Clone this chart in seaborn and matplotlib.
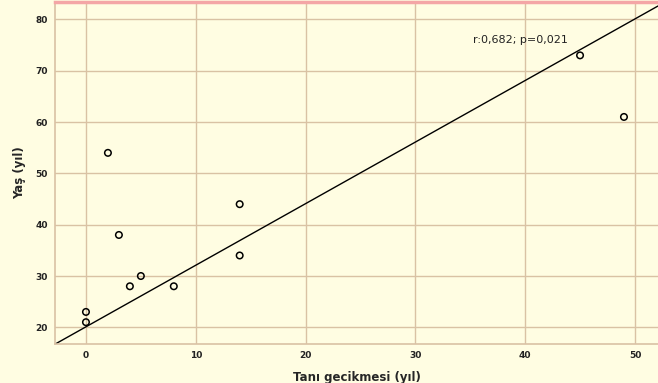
import numpy as np
import pandas as pd
import matplotlib
matplotlib.use("Agg")
import matplotlib.pyplot as plt
import seaborn as sns

# data
tani_gecikmesi = [0, 0, 2, 3, 4, 5, 8, 14, 14, 45, 49]
yas = [21, 23, 54, 38, 28, 30, 28, 44, 34, 73, 61]

# fitted line as drawn in the reference
fit_intercept = 20.1
fit_slope = 1.2

annot_text = "r:0,682; p=0,021"
x_ticks = [0, 10, 20, 30, 40, 50]
y_ticks = [20, 30, 40, 50, 60, 70, 80]

BG = "#FFFDE2"
GRID = "#D9C2A4"

sns.set_style("whitegrid")
plt.rcParams["font.family"] = ["DejaVu Sans"]

df = pd.DataFrame({"Tanı gecikmesi (yıl)": tani_gecikmesi, "Yaş (yıl)": yas})

fig = plt.figure(figsize=(6.58, 3.83), dpi=100, facecolor=BG)
ax = fig.add_axes([55 / 658, 39 / 383, 1 - 55 / 658, 342 / 383])
ax.set_facecolor(BG)

sns.scatterplot(data=df, x="Tanı gecikmesi (yıl)", y="Yaş (yıl)", ax=ax,
                marker="o", s=22, facecolor="none", edgecolor="black",
                linewidth=1.1, zorder=3)
ax.axline((0, fit_intercept), slope=fit_slope, color="black", lw=1.0, zorder=2)

ax.set_xlim(-2.82, 52.1)
ax.set_ylim(16.75, 83.4)
ax.set_xticks(x_ticks)
ax.set_yticks(y_ticks)
ax.grid(True, color=GRID, lw=1.0)
ax.tick_params(length=0, labelsize=6.5, pad=5)
for lbl in ax.get_xticklabels() + ax.get_yticklabels():
    lbl.set_fontweight("bold")
    lbl.set_color("#222222")

for side in ["left", "bottom"]:
    ax.spines[side].set_color(GRID)
    ax.spines[side].set_linewidth(1.2)
ax.spines["right"].set_visible(False)
ax.spines["top"].set_color("#F4A6A6")
ax.spines["top"].set_linewidth(2.5)

ax.set_xlabel("Tanı gecikmesi (yıl)", fontsize=8.5, fontweight="bold", labelpad=8)
ax.set_ylabel("Yaş (yıl)", fontsize=8.5, fontweight="bold", labelpad=7)

ax.text(39.6, 75.9, annot_text, fontsize=8, ha="center", va="center", color="#222222")

fig.savefig("out.png", dpi=100, facecolor=BG)
